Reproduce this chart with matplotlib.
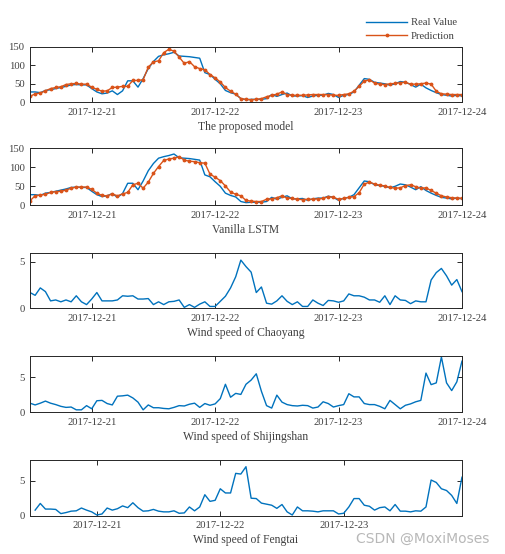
import numpy as np
import pandas as pd
import matplotlib
matplotlib.use("Agg")
import matplotlib.pyplot as plt
import matplotlib.dates as mdates

plt.rcParams['font.family'] = ['Liberation Serif', 'DejaVu Serif']
plt.rcParams['font.size'] = 7.7

# hourly values, 2017-12-20 12:00 .. 2017-12-24 00:00
real_pm = [28, 28, 26, 32, 34, 37, 40, 43, 47, 48, 47, 47, 37, 28, 23, 25, 31, 21, 31, 58,
           58, 41, 64, 91, 110, 124, 128, 131, 135, 125, 124, 123, 121, 119, 80, 75, 62, 50, 32, 26,
           22, 10, 7, 8, 8, 8, 10, 21, 16, 21, 25, 17, 17, 18, 13, 17, 19, 19, 24, 21,
           13, 19, 21, 28, 46, 64, 62, 54, 52, 50, 46, 50, 56, 54, 48, 41, 49, 39, 32, 26,
           21, 19, 17, 19, 17]
pred_proposed = [16, 23, 25, 31, 37, 40, 42, 48, 50, 51, 49, 49, 41, 35, 30, 31, 40, 41, 43, 43,
                 59, 59, 61, 95, 109, 112, 134, 143, 138, 122, 105, 110, 96, 91, 88, 75, 66, 55, 40, 30,
                 22, 10, 8, 7, 8, 10, 15, 19, 22, 28, 21, 19, 19, 19, 20, 21, 21, 21, 21, 19,
                 19, 21, 23, 30, 43, 57, 61, 52, 49, 48, 50, 51, 53, 54, 49, 49, 50, 52, 49, 30,
                 23, 22, 21, 21, 21]
pred_lstm = [12, 25, 27, 29, 34, 36, 37, 40, 45, 48, 48, 48, 42, 32, 26, 25, 30, 25, 30, 34,
             54, 58, 45, 61, 84, 102, 118, 122, 124, 128, 119, 116, 115, 112, 111, 82, 74, 65, 51, 35,
             29, 25, 13, 11, 10, 10, 16, 17, 20, 25, 19, 18, 16, 15, 16, 16, 17, 18, 23, 21,
             16, 18, 21, 23, 33, 56, 61, 56, 53, 51, 47, 45, 46, 52, 54, 49, 45, 46, 39, 32,
             25, 22, 20, 19, 19]
ws_chaoyang = [1.7, 1.4, 2.2, 1.8, 0.8, 0.9, 0.7, 0.9, 0.7, 1.35, 0.7, 0.4, 1.0, 1.7, 0.8, 0.8, 0.8, 0.9, 1.35, 1.3,
               1.35, 1.0, 1.0, 1.05, 0.4, 0.7, 0.4, 0.7, 0.75, 0.9, 0.1, 0.4, 0.1, 0.45, 0.7, 0.2, 0.2, 0.75, 1.3, 2.2,
               3.4, 5.2, 4.5, 3.9, 1.7, 2.3, 0.55, 0.45, 0.8, 1.35, 0.75, 0.4, 0.7, 0.2, 0.2, 0.9, 0.55, 0.3, 0.85, 0.8,
               0.65, 0.8, 1.55, 1.35, 1.35, 1.2, 0.9, 0.9, 0.65, 1.35, 0.4, 1.35, 0.9, 0.85, 0.5, 0.8, 0.7, 0.7, 3.05, 3.85,
               4.3, 3.5, 2.5, 3.1, 1.8]
ws_shijingshan = [1.3, 1.05, 1.3, 1.6, 1.3, 1.1, 0.85, 0.7, 0.75, 0.35, 0.35, 0.95, 0.5, 1.65, 1.7, 1.25, 1.05, 2.3, 2.35, 2.45,
                  2.05, 1.45, 0.35, 1.05, 0.65, 0.65, 0.55, 0.5, 0.7, 0.95, 0.9, 1.15, 1.3, 0.7, 1.25, 1.0, 1.2, 1.95, 4.0, 2.15,
                  2.7, 2.55, 4.0, 4.6, 5.5, 3.0, 0.95, 0.6, 2.45, 1.45, 1.1, 0.95, 0.9, 1.0, 0.95, 0.6, 0.75, 1.5, 1.25, 0.75,
                  0.95, 1.1, 2.65, 2.2, 2.2, 1.25, 1.1, 1.1, 0.85, 0.5, 1.7, 1.1, 0.5, 1.0, 1.2, 1.5, 1.7, 5.6, 3.95, 4.2,
                  7.9, 4.2, 3.1, 4.35, 7.3]
# 2017-12-20 12:00 .. 2017-12-23 23:00
ws_fengtai = [0.8, 1.75, 0.95, 0.95, 0.9, 0.3, 0.45, 0.65, 0.7, 1.1, 0.8, 0.55, 0.1, 0.25, 1.1, 0.8, 1.0, 1.4, 1.15, 1.85,
              1.15, 0.65, 0.7, 0.9, 0.65, 0.55, 0.55, 0.7, 0.35, 0.4, 1.25, 0.7, 1.25, 3.0, 2.05, 2.2, 3.85, 3.25, 3.25, 6.05,
              5.95, 7.0, 2.5, 2.45, 1.8, 1.65, 1.5, 1.05, 1.6, 0.55, 0.1, 1.25, 0.7, 0.7, 0.65, 0.55, 0.7, 0.7, 0.7, 0.25,
              0.35, 1.25, 2.45, 2.45, 1.5, 1.35, 0.8, 1.15, 1.25, 0.7, 1.6, 0.65, 0.65, 0.55, 0.7, 0.65, 1.25, 5.1, 4.75, 3.85,
              3.6, 2.9, 1.75, 5.5]

t = pd.date_range('2017-12-20 12:00', periods=len(real_pm), freq='h')
t_ft = pd.date_range('2017-12-20 12:00', periods=len(ws_fengtai), freq='h')

blue = '#0072BD'
orange = '#D95319'
txt = '#404040'

fig = plt.figure(figsize=(5.05, 5.54), dpi=100)
L, W = 0.0594, 0.8554
boxes = [(0.8153, 0.1004), (0.6294, 0.1029), (0.4435, 0.1004), (0.2558, 0.1011), (0.0691, 0.1011)]
axs = [fig.add_axes([L, b, W, h]) for b, h in boxes]

axs[0].plot(t, real_pm, color=blue, lw=1.0, label='Real Value')
axs[0].plot(t, pred_proposed, color=orange, lw=1.0, marker='.', ms=3.5, label='Prediction')
axs[1].plot(t, real_pm, color=blue, lw=1.0)
axs[1].plot(t, pred_lstm, color=orange, lw=1.0, marker='.', ms=3.5)
axs[2].plot(t, ws_chaoyang, color=blue, lw=1.0)
axs[3].plot(t, ws_shijingshan, color=blue, lw=1.0)
axs[4].plot(t_ft, ws_fengtai, color=blue, lw=1.0)

labels = ['The proposed model', 'Vanilla LSTM', 'Wind speed of Chaoyang',
          'Wind speed of Shijingshan', 'Wind speed of Fengtai']
ylims = [(0, 150), (0, 150), (0, 6), (0, 8), (0, 8)]
yticks = [[0, 50, 100, 150], [0, 50, 100, 150], [0, 5], [0, 5], [0, 5]]

for i, ax in enumerate(axs):
    if i < 4:
        ax.set_xlim(pd.Timestamp('2017-12-20 12:00'), pd.Timestamp('2017-12-24 00:00'))
    else:
        ax.set_xlim(pd.Timestamp('2017-12-20 11:00'), pd.Timestamp('2017-12-23 23:00'))
    ax.set_ylim(*ylims[i])
    ax.set_yticks(yticks[i])
    ax.xaxis.set_major_locator(mdates.DayLocator())
    ax.xaxis.set_major_formatter(mdates.DateFormatter('%Y-%m-%d'))
    ax.tick_params(direction='in', top=True, right=True, length=3.5, width=0.7,
                   colors='#262626', labelcolor=txt, pad=4)
    for s in ax.spines.values():
        s.set_color('#262626')
        s.set_linewidth(0.7)
    ax.set_xlabel(labels[i], color=txt, fontsize=8.4, labelpad=3)

fig.legend(loc='upper left', bbox_to_anchor=(0.705, 0.985), frameon=False,
           handlelength=3.9, handletextpad=0.35, labelspacing=0.35, fontsize=7.7,
           labelcolor=txt)

fig.text(0.97, 0.028, 'CSDN @MoxiMoses', ha='right', va='center', color='#b8b8b8',
         fontsize=10, family='DejaVu Sans')

fig.savefig('out.png', dpi=100)
